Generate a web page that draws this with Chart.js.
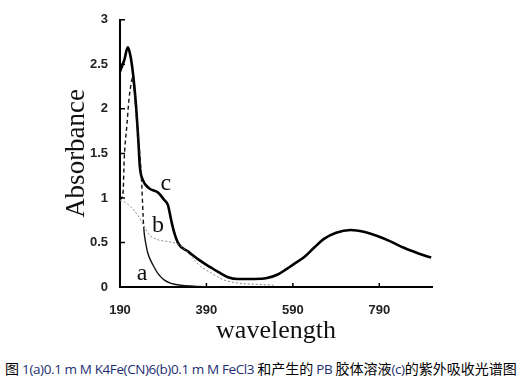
<!DOCTYPE html>
<html lang="zh">
  <head>
    <meta charset="UTF-8" />
    <title>PB UV-Vis spectra</title>
    <script src="https://cdn.jsdelivr.net/npm/chart.js"></script>
    <style>
      body { margin: 0; background: #fff; }
      #wrap { position: relative; width: 520px; height: 385px; }
      #caption {
        position: absolute; left: 5px; top: 358px; white-space: nowrap;
        font-family: "Noto Sans CJK SC", sans-serif; font-size: 14px; color: #000;
      }
      #caption .lat { font-family: "Open Sans", sans-serif; color: #1c2f72; font-size: 13.5px; letter-spacing: -0.4px; }
    </style>
  </head>
  <body>
    <div id="wrap">
      <canvas id="spec" width="520" height="350"></canvas>
      <div id="caption">图<span class="lat"> 1(a)0.1 m M K4Fe(CN)6(b)0.1 m M FeCl3 </span>和产生的<span class="lat"> PB </span>胶体溶液<span class="lat">(c)</span>的紫外吸收光谱图</div>
    </div>

    <script>
      // wavelength (nm) / absorbance
      const waveA = [190, 197, 200, 206, 211, 215, 219, 223, 230, 239, 245, 250, 255, 266, 278, 292, 308, 330, 360, 420];
      const absA  = [0.98, 1.06, 1.46, 1.82, 2.12, 2.26, 2.35, 2.2, 1.8, 1.28, 0.66, 0.48, 0.37, 0.25, 0.15, 0.08, 0.04, 0.02, 0.01, 0.0];
      const dashedUntil = 245; // curve a drawn dashed up to here

      const waveB = [190, 199, 215, 232, 245, 257, 278, 301, 324, 340, 355, 377, 400, 430, 470, 510, 545];
      const absB  = [0.97, 0.96, 0.9, 0.8, 0.69, 0.59, 0.53, 0.51, 0.48, 0.42, 0.34, 0.23, 0.16, 0.08, 0.04, 0.03, 0.02];

      const waveC = [190, 200, 208, 214, 220, 227, 232, 236, 243, 257, 278, 292, 301, 308, 315, 326, 347, 377, 400, 417, 440, 463, 500, 530, 555, 575, 593, 615, 639, 662, 690, 724, 754, 787, 817, 847, 879, 910];
      const absC  = [2.42, 2.55, 2.69, 2.6, 2.4, 2.04, 1.68, 1.35, 1.2, 1.11, 1.06, 0.98, 0.92, 0.76, 0.62, 0.48, 0.4, 0.29, 0.22, 0.17, 0.11, 0.09, 0.09, 0.1, 0.14, 0.2, 0.26, 0.33, 0.44, 0.54, 0.61, 0.64, 0.62, 0.57, 0.51, 0.44, 0.38, 0.33];

      const xTicks = [190, 390, 590, 790];
      const yTicks = [0, 0.5, 1, 1.5, 2, 2.5, 3];

      const curveNames = ['a', 'b', 'c'];
      const nameWave = [241, 278, 296];
      const nameAbs = [0.15, 0.69, 1.16];

      const pts = (xs, ys) => xs.map((x, i) => ({ x: x, y: ys[i] }));

      // small inward tick marks + curve letters
      const extras = {
        id: 'extras',
        afterDraw(chart) {
          const { ctx, scales: { x, y } } = chart;
          ctx.save();
          ctx.strokeStyle = '#000';
          ctx.lineWidth = 1.5;
          ctx.beginPath();
          yTicks.forEach(v => {
            const py = y.getPixelForValue(v);
            ctx.moveTo(x.left, py); ctx.lineTo(x.left + 5, py);
          });
          xTicks.slice(1).forEach(v => {
            const px = x.getPixelForValue(v);
            ctx.moveTo(px, y.bottom); ctx.lineTo(px, y.bottom - 4);
          });
          ctx.stroke();
          ctx.fillStyle = '#111';
          ctx.font = '24px "Liberation Serif", serif';
          ctx.textAlign = 'center';
          ctx.textBaseline = 'middle';
          curveNames.forEach((n, i) => {
            ctx.fillText(n, x.getPixelForValue(nameWave[i]), y.getPixelForValue(nameAbs[i]));
          });
          ctx.restore();
        }
      };

      const tickFont = { family: '"Liberation Sans", sans-serif', size: 13, weight: 'bold' };

      new Chart(document.getElementById('spec'), {
        type: 'line',
        data: {
          datasets: [
            {
              label: 'a',
              data: pts(waveA, absA),
              borderColor: '#111',
              borderWidth: 1.4,
              pointRadius: 0,
              cubicInterpolationMode: 'monotone',
              segment: {
                borderDash: c => c.p1.parsed.x <= dashedUntil ? [4, 3] : undefined
              }
            },
            {
              label: 'b',
              data: pts(waveB, absB),
              borderColor: '#888',
              borderWidth: 1,
              borderDash: [2, 2],
              pointRadius: 0,
              cubicInterpolationMode: 'monotone'
            },
            {
              label: 'c',
              data: pts(waveC, absC),
              borderColor: '#000',
              borderWidth: 2.6,
              pointRadius: 0,
              cubicInterpolationMode: 'monotone'
            }
          ]
        },
        options: {
          responsive: false,
          animation: false,
          layout: { padding: { top: 12, right: 88, left: 0, bottom: 0 } },
          plugins: { legend: { display: false }, tooltip: { enabled: false } },
          scales: {
            x: {
              type: 'linear',
              min: 190,
              max: 912,
              afterFit: s => { s.height = 63; },
              afterBuildTicks: s => { s.ticks = xTicks.map(v => ({ value: v })); },
              grid: { drawOnChartArea: false, drawTicks: false },
              border: { color: '#000', width: 2 },
              ticks: { padding: 16, color: '#222', font: tickFont, callback: v => String(v) },
              title: {
                display: true,
                text: 'wavelength',
                color: '#111',
                padding: { top: 0, bottom: 3 },
                font: { family: '"Liberation Serif", serif', size: 26 }
              }
            },
            y: {
              min: 0,
              max: 3,
              afterFit: s => { s.width = 120; },
              afterBuildTicks: s => { s.ticks = yTicks.map(v => ({ value: v })); },
              grid: { drawOnChartArea: false, drawTicks: false },
              border: { color: '#000', width: 2 },
              ticks: { padding: 12, color: '#222', font: tickFont, callback: v => String(v) },
              title: {
                display: true,
                text: 'Absorbance',
                color: '#111',
                padding: { top: 61, bottom: 0 },
                font: { family: '"Liberation Serif", serif', size: 27 }
              }
            }
          }
        },
        plugins: [extras]
      });
    </script>
  </body>
</html>
